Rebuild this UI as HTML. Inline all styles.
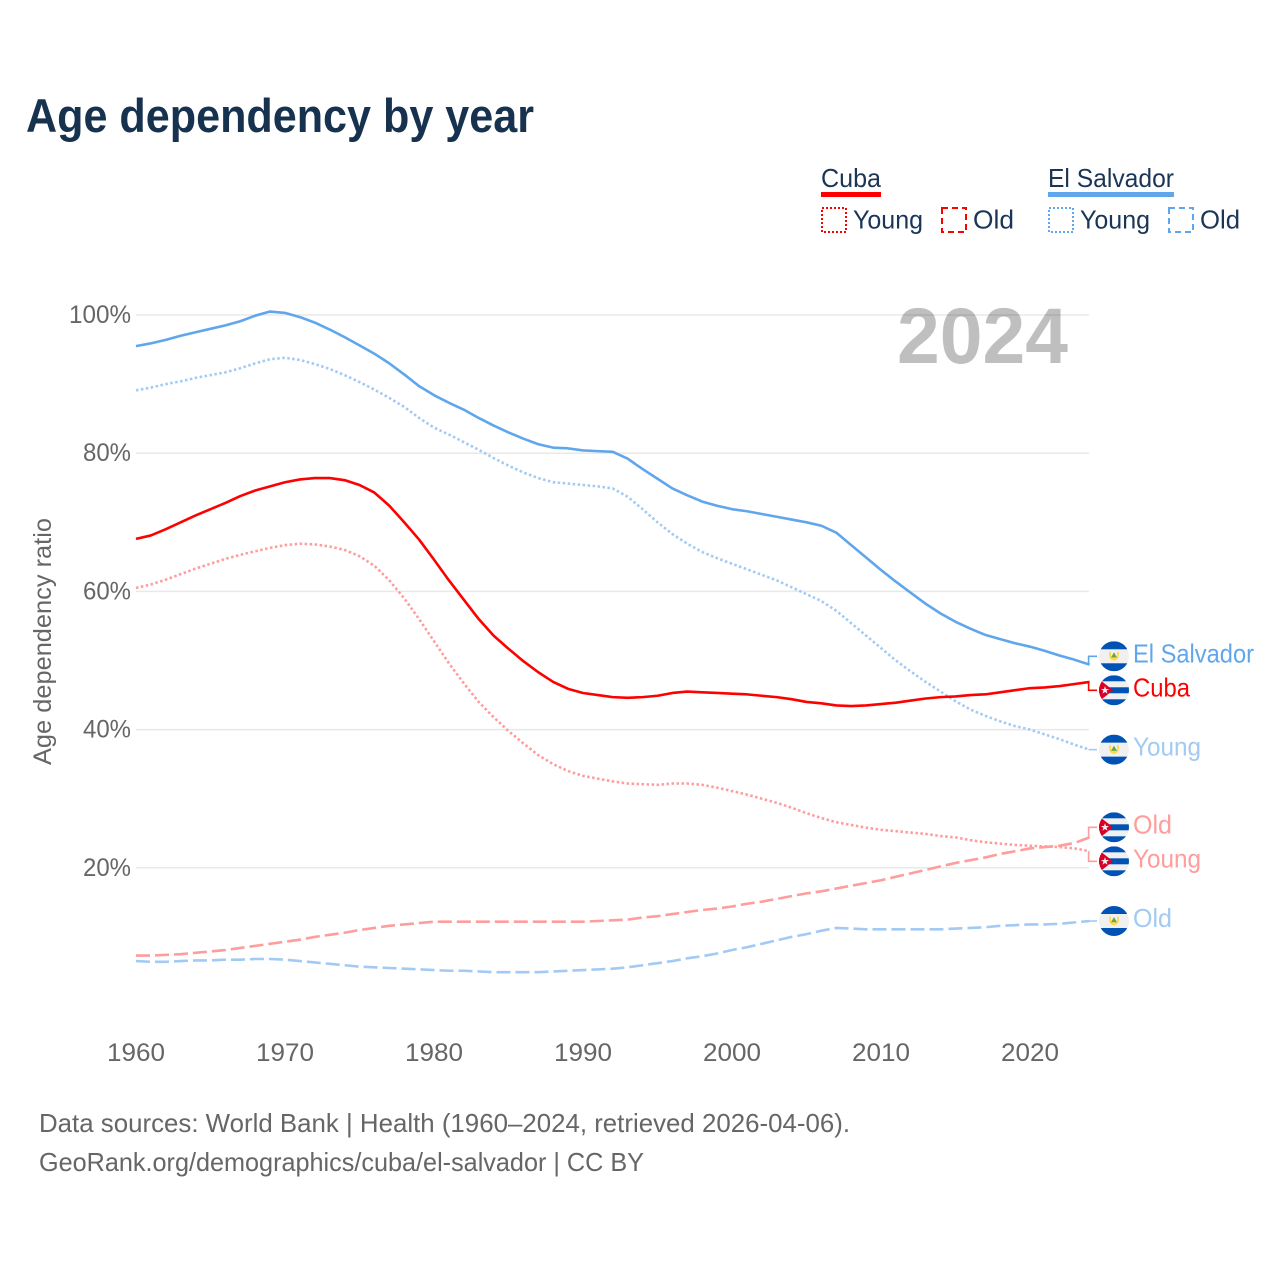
<!DOCTYPE html>
<html lang="en">
<head>
<meta charset="utf-8">
<title>Age dependency by year</title>
<style>
html,body{margin:0;padding:0;background:#fff;}
svg{display:block;font-family:"Liberation Sans",Arial,sans-serif;}
</style>
</head>
<body>
<svg id="chart" xmlns="http://www.w3.org/2000/svg" width="1280" height="1280" viewBox="0 0 1280 1280">
  <rect width="1280" height="1280" fill="#fff"/>
  <defs>
    <clipPath id="flag-clip"><circle cx="0" cy="0" r="15"/></clipPath>
  </defs>
  <text x="26" y="132" font-size="47" font-weight="700" fill="#17324f" textLength="508" lengthAdjust="spacingAndGlyphs">Age dependency by year</text>

  <g fill="#1a3556" font-size="26">
    <g>
      <text x="821" y="187" textLength="60" lengthAdjust="spacingAndGlyphs">Cuba</text>
      <rect x="821" y="192" width="60" height="5" fill="#ff0000"/>
      <rect x="822" y="208" width="24" height="24" fill="none" stroke="#ff0000" stroke-width="2" stroke-dasharray="2 2"/>
      <text x="853" y="228.5" textLength="70" lengthAdjust="spacingAndGlyphs">Young</text>
      <rect x="942" y="208" width="24" height="24" fill="none" stroke="#ff0000" stroke-width="2" stroke-dasharray="6 4"/>
      <text x="973" y="228.5" textLength="41" lengthAdjust="spacingAndGlyphs">Old</text>
    </g>
    <g>
      <text x="1048" y="187" textLength="126" lengthAdjust="spacingAndGlyphs">El Salvador</text>
      <rect x="1048" y="192" width="126" height="5" fill="#60a6ec"/>
      <rect x="1049" y="208" width="24" height="24" fill="none" stroke="#60a6ec" stroke-width="2" stroke-dasharray="2 2"/>
      <text x="1080" y="228.5" textLength="70" lengthAdjust="spacingAndGlyphs">Young</text>
      <rect x="1169" y="208" width="24" height="24" fill="none" stroke="#60a6ec" stroke-width="2" stroke-dasharray="6 4"/>
      <text x="1200" y="228.5" textLength="40" lengthAdjust="spacingAndGlyphs">Old</text>
    </g>
  </g>

  <g id="grid"></g>
  <text x="897" y="363" font-size="79" font-weight="700" fill="#000" fill-opacity="0.25" textLength="171" lengthAdjust="spacingAndGlyphs">2024</text>
  <g id="y-ticks"></g>
  <g id="x-ticks"></g>
  <text transform="translate(51,765) rotate(-90)" x="0" y="0" font-size="25" fill="#666" textLength="247" lengthAdjust="spacingAndGlyphs">Age dependency ratio</text>
  <g id="series"></g>
  <g id="end-labels"></g>

  <g font-size="26" fill="#666">
    <text x="39" y="1132" textLength="811" lengthAdjust="spacingAndGlyphs">Data sources: World Bank | Health (1960–2024, retrieved 2026-04-06).</text>
    <text x="39" y="1171" textLength="605" lengthAdjust="spacingAndGlyphs">GeoRank.org/demographics/cuba/el-salvador | CC BY</text>
  </g>
</svg>
<script>
const startYear = 1960;
const xTicks = [1960, 1970, 1980, 1990, 2000, 2010, 2020];
const yTicks = [20, 40, 60, 80, 100];

const elSalvadorTotal = [
  95.5,95.9,96.4,97.0,97.5,98.0,98.5,99.1,99.9,100.5,
  100.3,99.7,98.9,97.9,96.8,95.6,94.4,93.0,91.4,89.7,
  88.4,87.3,86.3,85.1,84.0,83.0,82.1,81.3,80.8,80.7,
  80.4,80.3,80.2,79.2,77.7,76.3,74.9,73.9,73.0,72.4,
  71.9,71.6,71.2,70.8,70.4,70.0,69.5,68.5,66.7,64.9,
  63.1,61.4,59.8,58.2,56.8,55.6,54.6,53.7,53.1,52.5,
  52.0,51.4,50.7,50.1,49.4
];
const elSalvadorYoung = [
  89.1,89.5,90.0,90.4,90.9,91.3,91.7,92.3,93.0,93.6,
  93.8,93.5,92.9,92.2,91.3,90.3,89.2,88.0,86.7,85.1,
  83.7,82.7,81.6,80.5,79.3,78.2,77.2,76.4,75.8,75.6,
  75.4,75.2,74.9,73.7,71.9,70.0,68.3,66.9,65.7,64.8,
  64.0,63.2,62.4,61.6,60.6,59.6,58.6,57.2,55.4,53.6,
  51.8,50.0,48.4,46.9,45.5,44.1,42.9,42.0,41.2,40.5,
  40.0,39.3,38.6,37.8,37.1
];
const elSalvadorOld = [
  6.5,6.4,6.4,6.5,6.6,6.6,6.7,6.7,6.8,6.8,
  6.7,6.5,6.3,6.1,5.9,5.7,5.6,5.5,5.4,5.3,
  5.2,5.1,5.1,5.0,4.9,4.9,4.9,4.9,5.0,5.1,
  5.2,5.3,5.4,5.6,5.9,6.2,6.5,6.9,7.2,7.6,
  8.1,8.5,9.0,9.5,10.0,10.4,10.9,11.3,11.2,11.1,
  11.1,11.1,11.1,11.1,11.1,11.2,11.3,11.4,11.6,11.7,
  11.8,11.8,11.9,12.1,12.3
];
const cubaTotal = [
  67.6,68.1,69.0,70.0,71.0,71.9,72.8,73.8,74.6,75.2,
  75.8,76.2,76.4,76.4,76.1,75.4,74.3,72.4,70.0,67.5,
  64.6,61.6,58.8,56.0,53.6,51.7,49.9,48.3,46.9,45.9,
  45.3,45.0,44.7,44.6,44.7,44.9,45.3,45.5,45.4,45.3,
  45.2,45.1,44.9,44.7,44.4,44.0,43.8,43.5,43.4,43.5,
  43.7,43.9,44.2,44.5,44.7,44.8,45.0,45.1,45.4,45.7,
  46.0,46.1,46.3,46.6,46.9
];
const cubaYoung = [
  60.5,61.0,61.7,62.5,63.3,64.0,64.7,65.3,65.8,66.3,
  66.7,66.9,66.8,66.5,66.0,65.1,63.7,61.6,59.0,56.0,
  52.8,49.6,46.7,44.0,41.8,39.8,38.0,36.3,35.0,34.0,
  33.3,32.9,32.5,32.2,32.1,32.0,32.2,32.2,32.0,31.6,
  31.1,30.6,30.0,29.4,28.7,27.9,27.2,26.6,26.2,25.8,
  25.5,25.3,25.1,24.9,24.6,24.4,24.0,23.7,23.5,23.3,
  23.2,23.1,23.0,22.8,22.4
];
const cubaOld = [
  7.3,7.3,7.4,7.5,7.7,7.9,8.1,8.4,8.7,9.0,
  9.3,9.6,10.0,10.3,10.6,11.0,11.3,11.6,11.8,12.0,
  12.2,12.2,12.2,12.2,12.2,12.2,12.2,12.2,12.2,12.2,
  12.2,12.3,12.4,12.5,12.8,13.0,13.3,13.6,13.9,14.1,
  14.4,14.8,15.1,15.5,15.9,16.3,16.6,17.0,17.4,17.8,
  18.2,18.7,19.2,19.7,20.2,20.7,21.1,21.5,22.0,22.4,
  22.8,23.0,23.2,23.6,24.4
];

const SVGNS = 'http://www.w3.org/2000/svg';
function xScale(year) { return 136 + (year - 1960) * 14.9; }
function yScale(v) { return 315 + (100 - v) * 6.91; }
function make(tag, attrs, parent) {
  const el = document.createElementNS(SVGNS, tag);
  for (const k in attrs) el.setAttribute(k, attrs[k]);
  if (parent) parent.appendChild(el);
  return el;
}

const gridG = document.getElementById('grid');
const yTickG = document.getElementById('y-ticks');
yTicks.forEach(function (t) {
  const line = make('line', {x1: 136, x2: 1089, y1: yScale(t), y2: yScale(t), stroke: '#e9e9e9', 'stroke-width': 1.5}, gridG);
  
  
  const str = t + '%';
  const w = t === 100 ? 62 : 48;
  const label = make('text', {x: 131 - w, y: yScale(t) + 8, 'font-size': 25, fill: '#666', textLength: w, lengthAdjust: 'spacingAndGlyphs'}, yTickG);
  
  
  label.textContent = str;
});

const xTickG = document.getElementById('x-ticks');
xTicks.forEach(function (t) {
  const label = make('text', {x: xScale(t) - 29, y: 1061, 'font-size': 25, fill: '#666', textLength: 58, lengthAdjust: 'spacingAndGlyphs'}, xTickG);
  
  
  label.textContent = String(t);
});

const seriesList = [
  {key: 'cuba-old',         values: cubaOld,         color: '#ff9c9c', dash: '14 5',    country: 'cuba',     label: 'Old'},
  {key: 'el-salvador-old',  values: elSalvadorOld,   color: '#a2caf4', dash: '14 5',    country: 'salvador', label: 'Old'},
  {key: 'cuba-young',       values: cubaYoung,       color: '#ff9c9c', dash: '2.5 2.5', country: 'cuba',     label: 'Young'},
  {key: 'el-salvador-young',values: elSalvadorYoung, color: '#a2caf4', dash: '2.5 2.5', country: 'salvador', label: 'Young'},
  {key: 'cuba-total',       values: cubaTotal,       color: '#ff0000', dash: null,      country: 'cuba',     label: 'Cuba'},
  {key: 'el-salvador-total',values: elSalvadorTotal, color: '#60a6ec', dash: null,      country: 'salvador', label: 'El Salvador'}
];
const labelWidths = {'Old': 39, 'Young': 68, 'Cuba': 57, 'El Salvador': 121};

const seriesG = document.getElementById('series');
seriesList.forEach(function (s) {
  const d = s.values.map(function (v, i) {
    return (i ? 'L' : 'M') + xScale(startYear + i).toFixed(2) + ' ' + yScale(v).toFixed(2);
  }).join('');
  const attrs = {d: d, fill: 'none', stroke: s.color, 'stroke-width': 2.6, 'stroke-linejoin': 'round'};
  if (s.dash) attrs['stroke-dasharray'] = s.dash;
  const path = make('path', attrs, seriesG);
  
  
});

/* end labels: dodge overlapping positions around the line ends */
const minGap = 34;
const placed = seriesList.map(function (s) {
  const endY = yScale(s.values[s.values.length - 1]);
  return {s: s, endY: endY, y: endY};
}).sort(function (a, b) { return a.endY - b.endY; });
for (let pass = 0; pass < 20; pass++) {
  for (let i = 0; i < placed.length - 1; i++) {
    const gap = placed[i + 1].y - placed[i].y;
    if (gap < minGap) {
      const shift = (minGap - gap) / 2;
      placed[i].y -= shift;
      placed[i + 1].y += shift;
    }
  }
}

function drawFlag(parent, cx, cy, country) {
  const g = make('g', {transform: 'translate(' + cx + ',' + cy + ')'}, parent);
  
  
  const c = make('g', {'clip-path': 'url(#flag-clip)'}, g);
  make('rect', {x: -15, y: -15, width: 30, height: 30, fill: '#f0f0f0'}, c);
  if (country === 'cuba') {
    make('rect', {x: -15, y: -15, width: 30, height: 6, fill: '#0052b4'}, c);
    make('rect', {x: -15, y: -3, width: 30, height: 6, fill: '#0052b4'}, c);
    make('rect', {x: -15, y: 9, width: 30, height: 6, fill: '#0052b4'}, c);
    make('path', {d: 'M-15.5 -11.5 L-1 0 L-15.5 11.5 Z', fill: '#d80027'}, c);
    make('path', {d: 'M-9 -4.2 L-8 -1.3 L-5 -1.3 L-7.4 0.5 L-6.5 3.4 L-9 1.7 L-11.5 3.4 L-10.6 0.5 L-13 -1.3 L-10 -1.3 Z', fill: '#f0f0f0'}, c);
  } else {
    make('rect', {x: -15, y: -15, width: 30, height: 8, fill: '#0052b4'}, c);
    make('rect', {x: -15, y: 7, width: 30, height: 8, fill: '#0052b4'}, c);
    make('path', {d: 'M-4.8 -4.5 L-3 -4.5 L-3 -1 L-2.5 1.2 L2.5 1.2 L3 -1 L3 -4.5 L4.8 -4.5 L4.8 -0.5 A4.8 4.8 0 0 1 -4.8 -0.5 Z', fill: '#ffda44'}, c);
    make('path', {d: 'M0 -4 L3 1.2 L-3 1.2 Z', fill: '#6da544'}, c);
  }
}

const labelsG = document.getElementById('end-labels');
placed.forEach(function (p) {
  const s = p.s;
  const g = make('g', {}, labelsG);
  
  
  const xEnd = xScale(2024);
  const connector = make('path', {d: 'M' + (xEnd - 1) + ' ' + p.endY + ' L' + (xEnd - 1) + ' ' + p.y + ' L1097 ' + p.y, fill: 'none', stroke: s.color, 'stroke-width': 1.6}, g);
  
  
  drawFlag(g, 1114, p.y, s.country);
  const text = make('text', {x: 1133, y: p.y + 6, 'font-size': 26, fill: s.color, textLength: labelWidths[s.label], lengthAdjust: 'spacingAndGlyphs'}, g);
  
  
  text.textContent = s.label;
});
</script>
</body>
</html>
